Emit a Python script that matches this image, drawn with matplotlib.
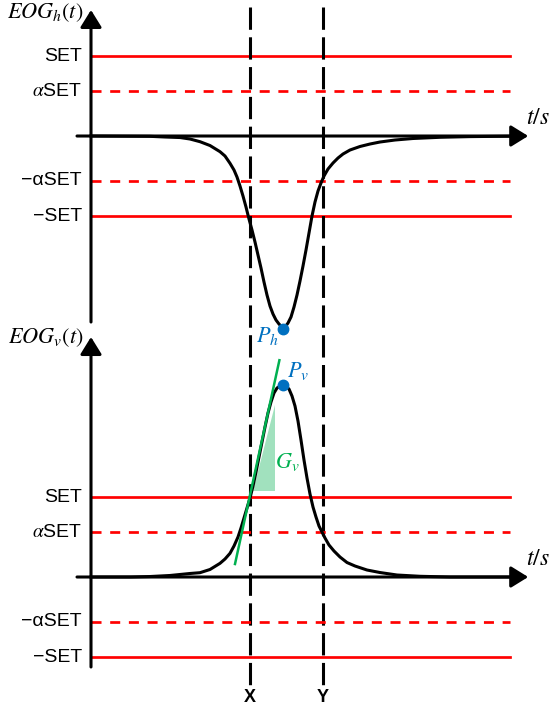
import matplotlib.pyplot as plt
import numpy as np

plt.rcParams['font.family'] = ['Liberation Sans', 'DejaVu Sans']
plt.rcParams['mathtext.fontset'] = 'stix'

# poziomy progow (w jednostkach SET)
SET = 1.0
ALPHA = 0.56
progi = [SET, ALPHA * SET, -ALPHA * SET, -SET]
progi_etykiety = ['SET', r'$\alpha$SET', '\u2212\u03b1SET', '\u2212SET']
progi_styl = ['-', 'dash', 'dash', '-']

# chwile X i Y
t_X = 3.975
t_Y = 5.8

# EOG poziomy
t_h = [0.0, 1.475, 1.85, 2.225, 2.475, 2.725, 2.975, 3.225, 3.35, 3.475, 3.575, 3.65,
       3.725, 3.8, 3.875, 3.95, 4.025, 4.1, 4.175, 4.25, 4.325, 4.4, 4.475, 4.55,
       4.625, 4.7, 4.775, 4.85, 4.925, 5.0, 5.075, 5.15, 5.225, 5.3, 5.375, 5.45,
       5.525, 5.6, 5.675, 5.75, 5.825, 5.925, 6.05, 6.175, 6.3, 6.475, 6.725, 6.975,
       7.225, 7.6, 8.05, 8.725, 9.475, 10.475]
eog_h = [0.0, -0.004, -0.0125, -0.019, -0.0375, -0.071, -0.119, -0.196, -0.25, -0.341,
         -0.425, -0.5125, -0.625, -0.75, -0.8875, -1.0375, -1.175, -1.325, -1.4875, -1.65,
         -1.825, -1.9875, -2.125, -2.225, -2.3, -2.35, -2.3875, -2.3875, -2.3375, -2.2625,
         -2.1375, -1.9875, -1.8125, -1.625, -1.425, -1.2125, -1.0, -0.825, -0.6875, -0.5875,
         -0.5, -0.4125, -0.3375, -0.275, -0.225, -0.175, -0.131, -0.1, -0.075, -0.05,
         -0.031, -0.016, -0.0075, -0.0025]

# EOG pionowy
t_v = [0.0, 1.0, 1.475, 1.975, 2.475, 2.725, 2.975, 3.225, 3.35, 3.475, 3.575, 3.675,
       3.75, 3.825, 3.9, 3.975, 4.05, 4.125, 4.2, 4.275, 4.35, 4.425, 4.5, 4.575,
       4.65, 4.725, 4.8, 4.875, 4.95, 5.025, 5.1, 5.175, 5.25, 5.325, 5.4, 5.475,
       5.55, 5.625, 5.7, 5.775, 5.85, 5.95, 6.075, 6.225, 6.4, 6.6, 6.9, 7.225,
       7.65, 8.225, 8.975, 10.475]
eog_v = [0.0, 0.0, 0.006, 0.019, 0.044, 0.054, 0.094, 0.171, 0.225, 0.296, 0.3875, 0.5,
         0.6125, 0.7375, 0.8625, 0.9875, 1.1375, 1.3125, 1.5, 1.6875, 1.875, 2.05, 2.1875, 2.3,
         2.3625, 2.3875, 2.394, 2.381, 2.35, 2.2625, 2.1375, 1.95, 1.7125, 1.4625, 1.2375, 1.0375,
         0.875, 0.75, 0.6375, 0.5625, 0.4875, 0.4, 0.325, 0.25, 0.181, 0.1375, 0.0875, 0.056,
         0.025, 0.009, 0.0, 0.0]

# punkty szczytowe
P_h = (4.81, -2.41)
P_v = (4.81, 2.40)

# styczna i trojkat nachylenia G_v
styczna_t = [3.6, 4.71]
styczna_y = [0.1625, 2.71]
gv_t = [4.04, 4.6, 4.6]
gv_y = [1.08, 1.08, 2.15]

t_koniec = 10.475
niebieski = '#0070C0'
zielony = '#00B050'
czerwony = '#FF0000'

fig = plt.figure(figsize=(5.57, 7.11), dpi=100)
ax_h = fig.add_axes([0, 0.5288, 1, 0.4712])
ax_v = fig.add_axes([0, 0, 1, 0.5288])
ax_h.set_xlim(-2.275, 11.65)
ax_v.set_xlim(-2.275, 11.65)
ax_h.set_ylim(-2.4875, 1.7)
ax_v.set_ylim(-1.675, 3.025)
for ax in (ax_h, ax_v):
    ax.axis('off')


def osie(ax, y_dol, y_gora, nazwa, y_nazwa):
    strz = dict(arrowstyle='-|>,head_length=1.05,head_width=0.65', mutation_scale=10,
                lw=2.2, color='black', shrinkA=0, shrinkB=0)
    ax.annotate('', xy=(0, y_gora), xytext=(0, y_dol), arrowprops=strz, zorder=5)
    ax.annotate('', xy=(10.93, 0), xytext=(-0.35, 0), arrowprops=strz, zorder=5)
    ax.text(-0.2, y_nazwa, nazwa, ha='right', va='center', fontsize=16)
    ax.text(11.175, 0.22, '$t/s$', ha='center', va='center', fontsize=17)
    for y, lab, styl in zip(progi, progi_etykiety, progi_styl):
        ls = (0, (3.7, 3.2)) if styl == 'dash' else '-'
        ax.plot([0, t_koniec], [y, y], color=czerwony, lw=1.95, ls=ls, zorder=2)
        ax.text(-0.225, y, lab, ha='right', va='center', fontsize=14)


osie(ax_h, -2.325, 1.575, r'$EOG_h(t)$', 1.54)
osie(ax_v, -1.125, 3.0, r'$EOG_v(t)$', 2.99)

ax_h.plot(t_h, eog_h, color='black', lw=2.2, zorder=4, solid_joinstyle='round')
ax_v.plot(t_v, eog_v, color='black', lw=2.2, zorder=4, solid_joinstyle='round')

ax_v.fill(gv_t, gv_y, color=zielony, alpha=0.37, lw=0, zorder=3)
ax_v.plot(styczna_t, styczna_y, color=zielony, lw=1.8, zorder=6)
ax_v.text(4.9, 1.44, '$G_v$', color=zielony, ha='center', va='center', fontsize=16)

ax_h.plot(*P_h, 'o', color=niebieski, ms=7.5, zorder=7)
ax_v.plot(*P_v, 'o', color=niebieski, ms=7.5, zorder=7)
ax_h.text(4.425, -2.5, '$P_h$', color=niebieski, ha='center', va='center', fontsize=16)
ax_v.text(5.175, 2.575, '$P_v$', color=niebieski, ha='center', va='center', fontsize=16)

# przerywane linie X i Y przez oba wykresy
for t, lab in ((t_X, 'X'), (t_Y, 'Y')):
    ax_v.plot([t, t], [7.125, -1.35], color='black', lw=2.2, ls=(0, (7.3, 2.45)),
              clip_on=False, zorder=1)
    ax_v.text(t, -1.5, lab, ha='center', va='center', fontsize=13, fontweight='bold')

fig.savefig('out.png', dpi=100)
